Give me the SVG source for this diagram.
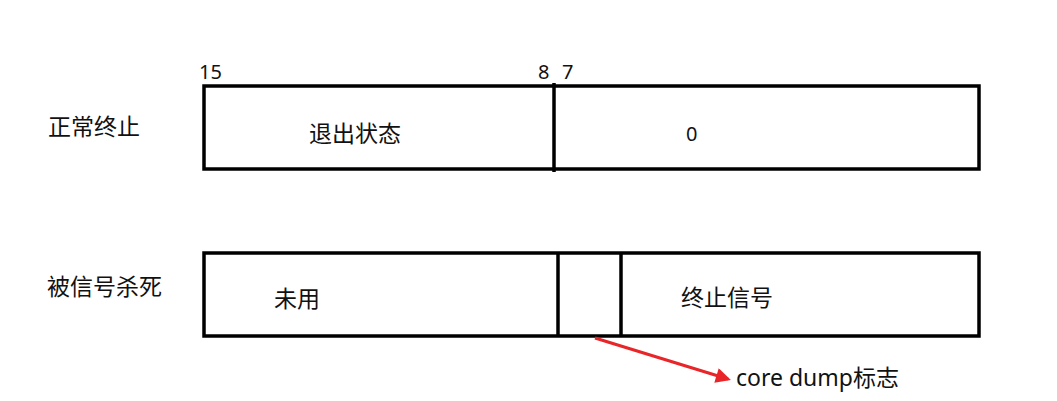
<svg xmlns="http://www.w3.org/2000/svg" width="1057" height="401" viewBox="0 0 1057 401">
<style>
.box{fill:none;stroke:#000;stroke-width:3.5}
.div{stroke:#000;stroke-width:3.5}
.t{font-family:"Noto Sans","Noto Sans CJK SC",sans-serif;font-size:23px;fill:#111}
.n{font-family:"Noto Sans","Noto Sans CJK SC",sans-serif;font-size:20px;fill:#111}
</style>
<defs>
<marker id="ah" viewBox="0 0 10 10" refX="8" refY="5" markerWidth="5.5" markerHeight="5" orient="auto" markerUnits="strokeWidth">
<path d="M0,0 L10,5 L0,10 z" fill="#e8262a"/>
</marker>
</defs>
<rect width="1057" height="401" fill="#fff"/>
<g id="label-normal"><text class="t" x="48" y="135">正常终止</text></g>
<g id="label-signal"><text class="t" x="47" y="295">被信号杀死</text></g>
<g id="bits"><text class="n" x="199" y="79">15</text><text class="n" x="538" y="79">8</text><text class="n" x="562" y="79">7</text></g>
<g id="row-normal">
<rect class="box" x="204" y="86" width="775" height="83"/>
<line class="div" x1="554" y1="83" x2="554" y2="172"/>
<text class="t" x="309" y="142">退出状态</text>
<text class="n" x="686" y="141">0</text>
</g>
<g id="row-signal">
<rect class="box" x="204" y="253" width="775" height="83"/>
<line class="div" x1="558" y1="253" x2="558" y2="336"/>
<line class="div" x1="621" y1="253" x2="621" y2="336"/>
<text class="t" x="274" y="307">未用</text>
<text class="t" x="681" y="306">终止信号</text>
</g>
<g id="connectors">
<line x1="595" y1="338" x2="728" y2="379" stroke="#e8262a" stroke-width="3" marker-end="url(#ah)"/>
</g>
<g id="label-core"><text class="t" x="736" y="386">core dump标志</text></g>
</svg>
